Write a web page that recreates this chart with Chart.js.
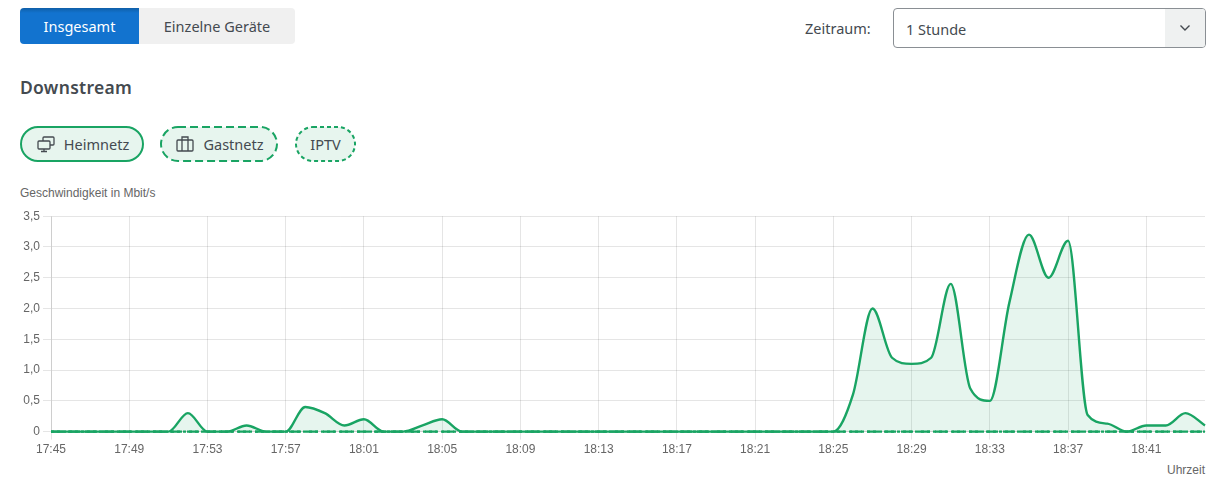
<!DOCTYPE html>
<html lang="de">
<head>
<meta charset="utf-8">
<title>Downstream</title>
<script src="https://cdn.jsdelivr.net/npm/chart.js@4/dist/chart.umd.min.js"></script>
<style>
    html, body { margin: 0; padding: 0; background: #fff; }
    body { width: 1220px; height: 478px; position: relative; overflow: hidden; font-family: "Noto Sans", sans-serif; color: #444a50; }

    .tabs { position: absolute; left: 20px; top: 8px; width: 275px; height: 36px; display: flex; border-radius: 4px; overflow: hidden; font-size: 14.5px; }
    .tabs div { display: flex; align-items: center; justify-content: center; }
    .tab-active { width: 119px; background: linear-gradient(#0f5fa8 0, #1273cf 5px); color: #fff; }
    .tab-other { width: 156px; background: #f0f0f0; }

    .range-label { position: absolute; left: 805px; top: 18px; font-size: 14.5px; line-height: 20px; }
    .range { position: absolute; left: 893px; top: 8px; width: 311px; height: 38px; border: 1px solid #8a8f94; border-radius: 4px; overflow: hidden; }
    .range span { position: absolute; left: 12px; top: 10px; font-size: 14.5px; line-height: 20px; }
    .range .arrow { position: absolute; right: 0; top: 0; width: 40px; height: 38px; background: #eff1f1; }
    .range svg { position: absolute; left: 14px; top: 15px; }

    h2 { position: absolute; left: 20px; top: 75px; margin: 0; font-size: 17.5px; line-height: 24px; font-weight: 600; letter-spacing: .3px; }

    .pill { position: absolute; top: 126px; height: 36px; display: flex; align-items: center; justify-content: center; font-size: 14.5px; gap: 9px; }
    .pill > svg.frame { position: absolute; left: 0; top: 0; }
    .pill > svg.icon, .pill > span { position: relative; display: block; }
    .pill rect.outline { fill: #e7f5ee; stroke: #19a463; stroke-width: 2; }

    .y-title { position: absolute; left: 20px; top: 185px; font: 12px "Liberation Sans", sans-serif; color: #666; line-height: 16px; }
    .x-title { position: absolute; right: 15px; top: 462px; font: 12px "Liberation Sans", sans-serif; color: #666; line-height: 16px; }
    #chartBox { position: absolute; left: 0; top: 206px; width: 1220px; height: 254px; }
</style>
</head>
<body>

<div class="tabs">
    <div class="tab-active">Insgesamt</div>
    <div class="tab-other">Einzelne Geräte</div>
</div>

<div class="range-label">Zeitraum:</div>
<div class="range">
    <span>1 Stunde</span>
    <div class="arrow">
        <svg width="12" height="8" viewBox="0 0 12 8"><path d="M1.5 1.5 L6 6 L10.5 1.5" fill="none" stroke="#444a50" stroke-width="1.4"/></svg>
    </div>
</div>

<h2>Downstream</h2>

<div class="pill" style="left:20px;width:124px">
    <svg class="frame" width="124" height="36"><rect class="outline" x="1" y="1" width="122" height="34" rx="17"/></svg>
    <svg class="icon" style="left:1px" width="18" height="18" viewBox="0 0 18 18" fill="none" stroke="#444a50" stroke-width="1.3">
        <rect x="6" y="2" width="11" height="8" rx="1"/>
        <rect x="1" y="6" width="12" height="8" rx="1" fill="#e7f5ee"/>
        <path d="M7 14 V16 M4 16.5 H10"/>
    </svg>
    <span style="left:1px">Heimnetz</span>
</div>
<div class="pill" style="left:160px;width:118px">
    <svg class="frame" width="118" height="36"><rect class="outline" x="1" y="1" width="116" height="34" rx="17" stroke-dasharray="8 4"/></svg>
    <svg class="icon" style="left:1px" width="18" height="18" viewBox="0 0 18 18" fill="none" stroke="#444a50" stroke-width="1.3">
        <rect x="1" y="5" width="16" height="11" rx="1"/>
        <path d="M6 5 V2 H12 V5 M6 5 V16 M12 5 V16"/>
    </svg>
    <span style="left:1px">Gastnetz</span>
</div>
<div class="pill" style="left:295px;width:61px">
    <svg class="frame" width="61" height="36"><rect class="outline" x="1" y="1" width="59" height="34" rx="17" stroke-dasharray="4 3"/></svg>
    <span>IPTV</span>
</div>

<div class="y-title">Geschwindigkeit in Mbit/s</div>
<div class="x-title">Uhrzeit</div>

<div id="chartBox"><canvas id="downstreamChart"></canvas></div>

<script>
/* DATA */
let minutes = [
    "17:45", "17:46", "17:47", "17:48", "17:49", "17:50", "17:51", "17:52", "17:53", "17:54",
    "17:55", "17:56", "17:57", "17:58", "17:59", "18:00", "18:01", "18:02", "18:03", "18:04",
    "18:05", "18:06", "18:07", "18:08", "18:09", "18:10", "18:11", "18:12", "18:13", "18:14",
    "18:15", "18:16", "18:17", "18:18", "18:19", "18:20", "18:21", "18:22", "18:23", "18:24",
    "18:25", "18:26", "18:27", "18:28", "18:29", "18:30", "18:31", "18:32", "18:33", "18:34",
    "18:35", "18:36", "18:37", "18:38", "18:39", "18:40", "18:41", "18:42", "18:43", "18:44"
];
let heimnetz = [
    0, 0, 0, 0, 0, 0, 0, 0.3, 0, 0,
    0.1, 0, 0, 0.4, 0.3, 0.1, 0.2, 0, 0, 0.1,
    0.2, 0, 0, 0, 0, 0, 0, 0, 0, 0,
    0, 0, 0, 0, 0, 0, 0, 0, 0, 0,
    0, 0.6, 2.0, 1.2, 1.1, 1.2, 2.4, 0.7, 0.5, 2.1,
    3.2, 2.5, 3.1, 0.27, 0.13, 0, 0.1, 0.1, 0.3, 0.1
];
let gastnetz = [
    0, 0, 0, 0, 0, 0, 0, 0, 0, 0, 0, 0, 0, 0, 0, 0, 0, 0, 0, 0,
    0, 0, 0, 0, 0, 0, 0, 0, 0, 0, 0, 0, 0, 0, 0, 0, 0, 0, 0, 0,
    0, 0, 0, 0, 0, 0, 0, 0, 0, 0, 0, 0, 0, 0, 0, 0, 0, 0, 0, 0
];
let iptv = [
    0, 0, 0, 0, 0, 0, 0, 0, 0, 0, 0, 0, 0, 0, 0, 0, 0, 0, 0, 0,
    0, 0, 0, 0, 0, 0, 0, 0, 0, 0, 0, 0, 0, 0, 0, 0, 0, 0, 0, 0,
    0, 0, 0, 0, 0, 0, 0, 0, 0, 0, 0, 0, 0, 0, 0, 0, 0, 0, 0, 0
];
let yTicks = ["0", "0,5", "1,0", "1,5", "2,0", "2,5", "3,0", "3,5"];

const green = "#19a463";

function series(label, values, dash, fill) {
    return {
        label: label,
        data: values,
        borderColor: green,
        borderWidth: 2.4,
        borderDash: dash,
        backgroundColor: "rgba(25,164,99,0.11)",
        fill: fill,
        clip: false,
        pointRadius: 0,
        cubicInterpolationMode: "monotone"
    };
}

new Chart(document.getElementById("downstreamChart"), {
    type: "line",
    data: {
        labels: minutes,
        datasets: [
            series("Heimnetz", heimnetz, [], "origin"),
            series("Gastnetz", gastnetz, [12, 5], false),
            series("IPTV", iptv, [3, 3], false)
        ]
    },
    options: {
        responsive: true,
        maintainAspectRatio: false,
        animation: false,
        layout: { padding: { left: 0, right: 15, top: 0, bottom: 0 } },
        plugins: { legend: { display: false }, tooltip: { enabled: false } },
        scales: {
            x: {
                grid: { color: "rgba(0,0,0,0.1)" },
                ticks: {
                    color: "#666",
                    font: { family: "Liberation Sans", size: 12 },
                    maxRotation: 0,
                    autoSkip: false,
                    callback: function (value, index) { return index % 4 === 0 ? minutes[index] : null; }
                }
            },
            y: {
                min: 0,
                max: 3.5,
                afterFit: function (scale) { scale.width = 51; },
                grid: { color: "rgba(0,0,0,0.1)" },
                ticks: {
                    stepSize: 0.5,
                    color: "#666",
                    font: { family: "Liberation Sans", size: 12 },
                    callback: function (value, index) { return yTicks[index]; }
                }
            }
        }
    }
});
</script>
</body>
</html>
